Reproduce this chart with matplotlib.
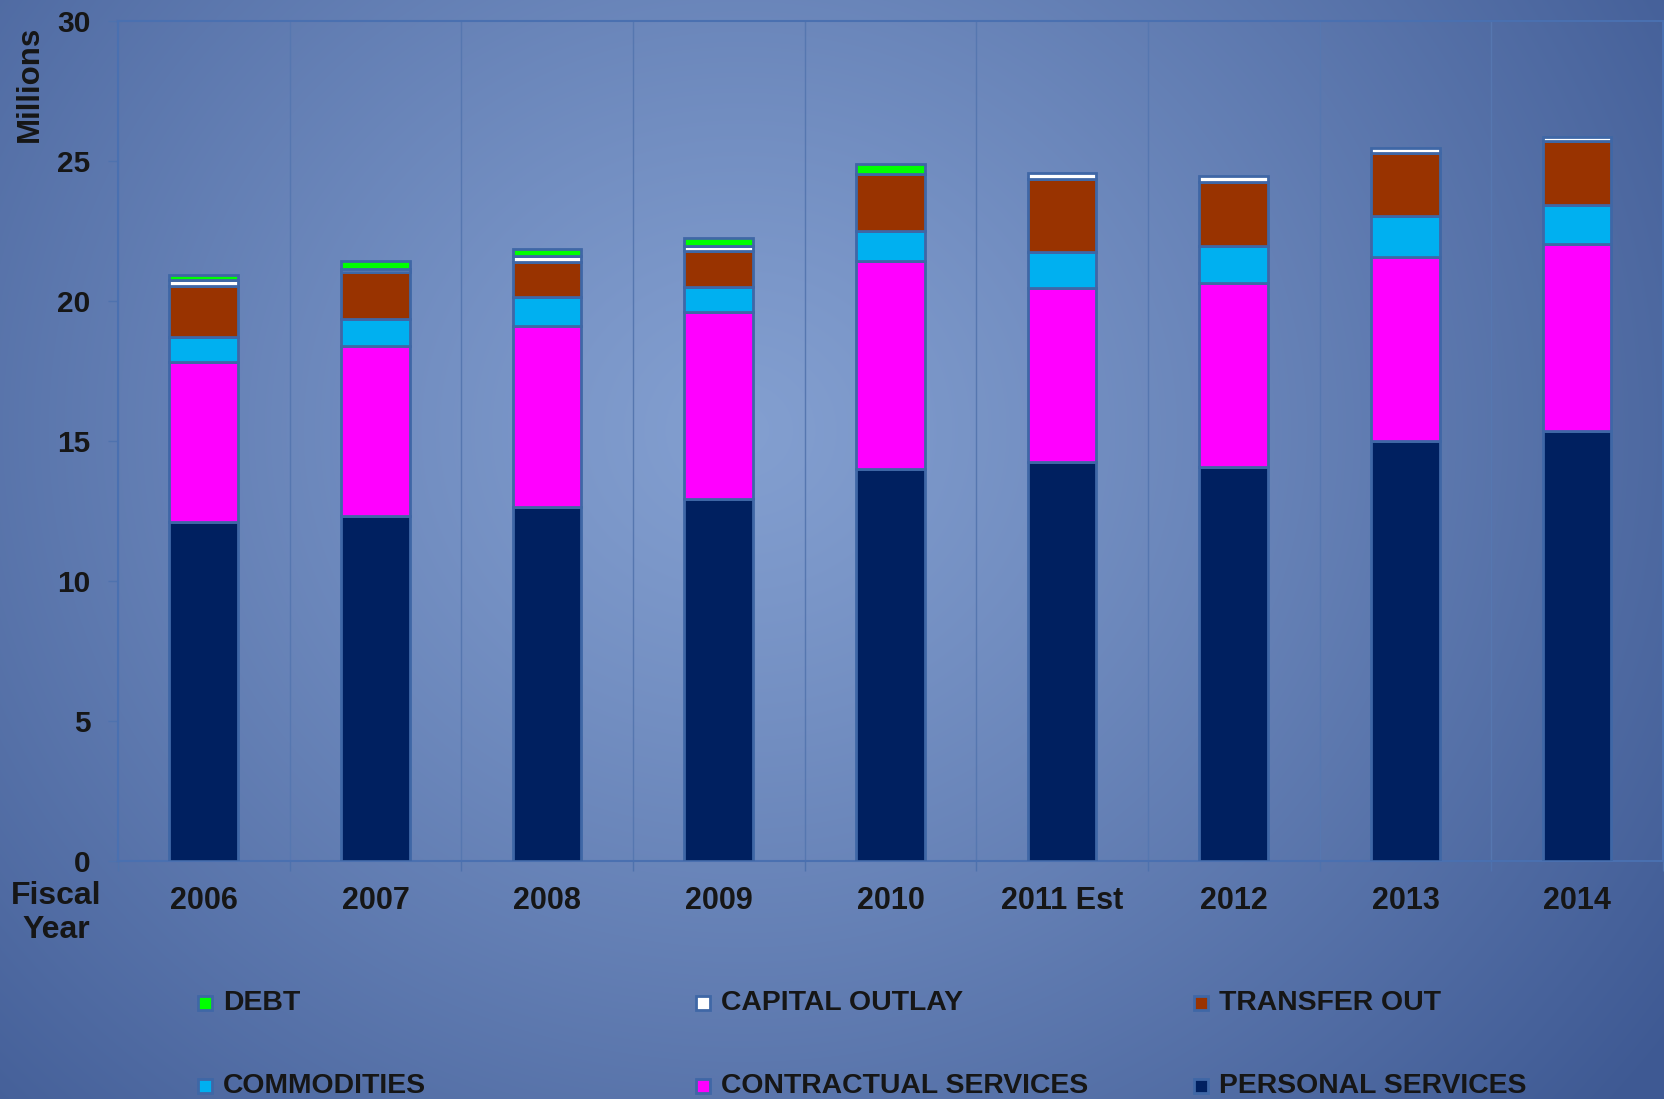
import numpy as np
import matplotlib
matplotlib.use("Agg")
import matplotlib.pyplot as plt
from matplotlib.patches import Rectangle

plt.rcParams['font.family'] = ['Liberation Sans', 'DejaVu Sans']

years = ["2006", "2007", "2008", "2009", "2010", "2011 Est", "2012", "2013", "2014"]
personal = [12.08, 12.31, 12.64, 12.93, 14.00, 14.25, 14.06, 15.00, 15.36]
contractual = [5.74, 6.08, 6.46, 6.66, 7.42, 6.21, 6.59, 6.57, 6.65]
commodities = [0.88, 0.95, 1.04, 0.91, 1.08, 1.29, 1.30, 1.44, 1.41]
transfer = [1.82, 1.70, 1.25, 1.27, 2.03, 2.60, 2.28, 2.25, 2.28]
capital = [0.22, 0.09, 0.21, 0.18, 0.00, 0.20, 0.23, 0.20, 0.15]
debt = [0.19, 0.28, 0.25, 0.29, 0.35, 0.00, 0.00, 0.00, 0.00]

series_names = ["PERSONAL SERVICES", "CONTRACTUAL SERVICES", "COMMODITIES",
                "TRANSFER OUT", "CAPITAL OUTLAY", "DEBT"]
series_vals = [personal, contractual, commodities, transfer, capital, debt]
series_colors = ["#002060", "#ff00ff", "#00b0f0", "#993300", "#ffffff", "#00ff00"]
yticks = [0, 5, 10, 15, 20, 25, 30]

W, H = 1665, 1099
fig = plt.figure(figsize=(W / 100, H / 100), dpi=100)

# background gradient
bg = fig.add_axes([0, 0, 1, 1], zorder=-10)
yy, xx = np.mgrid[0:H, 0:W]
cx, cy = 740, 430
r = np.sqrt(((xx - cx) / 1150.0) ** 2 + ((yy - cy) / 1050.0) ** 2)
r = np.clip(r, 0, 1) ** 1.15
light = np.array([0x83, 0x9f, 0xd0]) / 255.0
dark = np.array([0x3e, 0x59, 0x93]) / 255.0
img = light[None, None, :] * (1 - r[..., None]) + dark[None, None, :] * r[..., None]
bg.imshow(img, aspect='auto', extent=[0, 1, 0, 1], origin='upper')
bg.axis('off')

left, right, top, bottom = 118, 1663, 20.7, 860.7
ax = fig.add_axes([left / W, 1 - bottom / H, (right - left) / W, (bottom - top) / H])
ax.patch.set_alpha(0)

x = np.arange(len(years))
edge = "#3f67a6"
base = np.zeros(len(years))
for vals, col in zip(series_vals, series_colors):
    v = np.array(vals)
    mask = v > 0
    ax.bar(x[mask], v[mask], width=0.4, bottom=base[mask], color=col,
           edgecolor=edge, linewidth=2, zorder=3)
    base = base + v

ax.set_xlim(-0.5, len(years) - 0.5)
ax.set_ylim(0, 30)
ax.set_yticks(yticks)
ax.set_yticklabels([str(t) for t in yticks], fontsize=21.5, fontweight='bold', color='#161616')
ax.set_xticks(x)
ax.set_xticklabels(years, fontsize=22, fontweight='bold', color='#161616')
ax.set_xticks(np.arange(-0.5, len(years), 1), minor=True)
ax.tick_params(axis='x', which='major', length=0, pad=18)
ax.tick_params(axis='x', which='minor', length=7, width=1, color='#4f72ad', direction='out')
ax.tick_params(axis='y', which='major', length=7, width=1, color='#4f72ad', direction='out', pad=13)
ax.grid(axis='x', which='minor', color='#5677b0', linewidth=1, zorder=0)
ax.grid(axis='x', which='major', visible=False)
for s in ax.spines.values():
    s.set_color('#4a70b0')
    s.set_linewidth(1.5)

fig.text(30 / W, 1 - 84 / H, "Millions", rotation=90, ha='center', va='center',
         fontsize=22.5, fontweight='bold', color='#161616')
fig.text(56 / W, 1 - 913 / H, "Fiscal\nYear", ha='center', va='center',
         fontsize=23, fontweight='bold', color='#161616', linespacing=1.15,
         multialignment='center')

# legend, row-wise in reverse series order
order = [5, 4, 3, 2, 1, 0]
for i, si in enumerate(order):
    col, row = i % 3, i // 3
    px = 205 + col * 498
    py = 1003 + row * 83
    fig.add_artist(Rectangle(((px - 7) / W, 1 - (py + 7) / H), 14 / W, 14 / H,
                             transform=fig.transFigure, facecolor=series_colors[si],
                             edgecolor=edge, linewidth=2))
    fig.text((px + 18) / W, 1 - py / H, series_names[si], ha='left', va='center',
             fontsize=20.4, fontweight='bold', color='#161616')

fig.savefig("out.png", dpi=100)
